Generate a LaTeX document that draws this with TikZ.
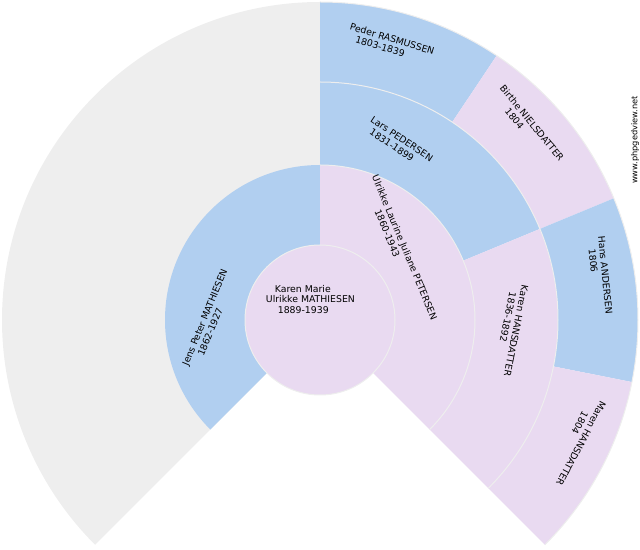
\documentclass[tikz,border=0pt]{standalone}
\usepackage{fontspec}
\setmainfont{DejaVu Sans}
\definecolor{fanmale}{rgb}{0.694, 0.812, 0.941}
\definecolor{fanfemale}{rgb}{0.914, 0.855, 0.945}
\definecolor{fanbg}{rgb}{0.933, 0.933, 0.933}
\tikzset{fanname/.style = {font=\fontsize{7}{8}\selectfont, align=left, inner sep=0pt},
         fanline/.style = {draw=fanbg, line width=0.75pt}}
\newcommand{\padspaces}[1]{\hspace*{#1\fontdimen2\font}}

\begin{document}
\begin{tikzpicture}[x=0.75pt, y=0.75pt]
  \useasboundingbox (0, 0) rectangle (640, 550);

  \begin{scope}[shift={(320, 230)}]
    % unknown ancestors
    \fill [fanbg] (0, 0) -- (90:318) arc(90:225:318) -- cycle;

    % parents
    \fill [fanmale] (90:75) -- (90:155) arc(90:225:155) -- (225:75) arc(225:90:75) -- cycle;
    \fill [fanfemale] (-45:75) -- (-45:155) arc(-45:90:155) -- (90:75) arc(90:-45:75) -- cycle;

    % grandparents
    \fill [fanmale] (22.5:155) -- (22.5:238) arc(22.5:90:238) -- (90:155) arc(90:22.5:155) -- cycle;
    \fill [fanfemale] (-45:155) -- (-45:238) arc(-45:22.5:238) -- (22.5:155) arc(22.5:-45:155) -- cycle;

    % great-grandparents
    \fill [fanmale] (56.25:238) -- (56.25:318) arc(56.25:90:318) -- (90:238) arc(90:56.25:238) -- cycle;
    \fill [fanfemale] (22.5:238) -- (22.5:318) arc(22.5:56.25:318) -- (56.25:238) arc(56.25:22.5:238) -- cycle;
    \fill [fanmale] (-11.25:238) -- (-11.25:318) arc(-11.25:22.5:318) -- (22.5:238) arc(22.5:-11.25:238) -- cycle;
    \fill [fanfemale] (-45:238) -- (-45:318) arc(-45:-11.25:318) -- (-11.25:238) arc(-11.25:-45:238) -- cycle;

    % root
    \fill [fanfemale] (0, 0) circle (75);

    \draw [fanline] (0, 0) circle (75);
    \draw [fanline] (-45:155) arc(-45:90:155);
    \draw [fanline] (-45:238) arc(-45:90:238);
    \draw [fanline] (-45:318) arc(-45:90:318);
  \end{scope}

  \node [fanname, anchor=west] (karenmarie) at (265.7, 250.8)
        {\padspaces{3}Karen Marie\\Ulrikke MATHIESEN\\\padspaces{4}1889-1939};

  \node [fanname, rotate=67.5] (jens) at (209.6, 230.5) {Jens Peter MATHIESEN\\\padspaces{5}1862-1927};
  \node [fanname, rotate=-67.5] (ulrikke) at (399.9, 300.6) {Ulrikke Laurine Juliane PETERSEN\\\padspaces{11}1860-1943};

  \node [fanname, rotate=-33.75] (lars) at (398.9, 406.6) {Lars PEDERSEN\\\padspaces{2}1831-1899};
  \node [fanname, rotate=-101.25] (karen) at (510.9, 220.2) {Karen HANSDATTER\\\padspaces{3}1836-1892};

  \node [fanname, rotate=-16.875] (peder) at (390.7, 506) {Peder RASMUSSEN\\\padspaces{3}1803-1839};
  \node [fanname, rotate=-50.625] (birthe) at (527.8, 423.5) {Birthe NIELSDATTER\\\padspaces{7}1804};
  \node [fanname, rotate=-84.375] (hans) at (600, 274.5) {Hans ANDERSEN\\\padspaces{4}1806};
  \node [fanname, rotate=-118.125] (maren) at (576.4, 109) {Maren HANSDATTER\\\padspaces{6}1804};

  \node [font=\fontsize{6.2}{7}\selectfont, rotate=90, inner sep=0pt] (site) at (635, 410) {www.phpgedview.net};
\end{tikzpicture}
\end{document}
